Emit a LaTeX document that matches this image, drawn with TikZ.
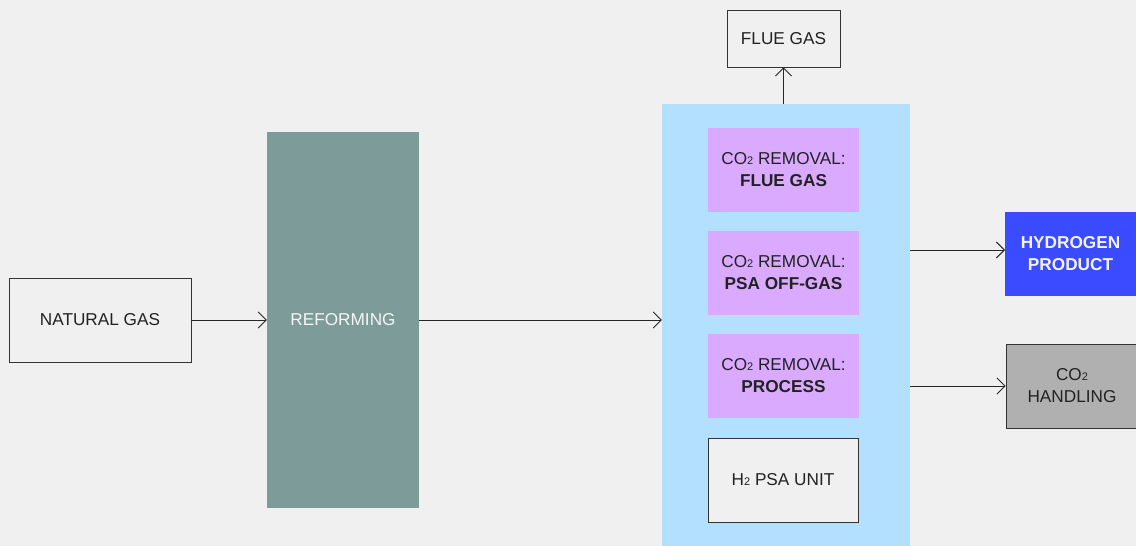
\documentclass[tikz,border=0pt]{standalone}
\usepackage{fontspec}
\setmainfont{Liberation Sans}
\usetikzlibrary{arrows.meta,calc}
\definecolor{bg}{HTML}{F0F0F0}
\definecolor{bluebg}{HTML}{B3E0FF}
\definecolor{purp}{HTML}{D9AAFF}
\definecolor{teal}{HTML}{7D9B99}
\definecolor{hyd}{HTML}{3B4BFF}
\definecolor{grayb}{HTML}{B0B0B0}
\definecolor{txt}{HTML}{222222}
\newcommand{\cotwo}{CO{\fontsize{11}{11}\selectfont 2}}
\newcommand{\htwo}{H{\fontsize{11}{11}\selectfont 2}}
\tikzset{
  every node/.style={font=\fontsize{17.2}{22}\selectfont, text=txt, align=center, inner sep=0pt},
  plainbox/.style={draw=black!80, line width=0.9pt, fill=bg},
  purpbox/.style={fill=purp, minimum width=151pt, minimum height=84pt},
  arr/.style={draw=black!85, line width=0.9pt, -{Straight Barb[length=8pt,width=16pt,line width=0.9pt]}}
}
\begin{document}
\begin{tikzpicture}[x=1pt,y=-1pt]
\useasboundingbox (0,0) rectangle (1136,546);
\fill[bg] (0,0) rectangle (1136,546);
\node[plainbox, minimum width=182pt, minimum height=84pt] (ng) at (100,320) {NATURAL GAS};
\node[fill=teal, minimum width=152pt, minimum height=376pt, text=white!92!teal] (ref) at (343,320) {REFORMING};
\node[fill=bluebg, minimum width=248pt, minimum height=442pt] (blue) at (786,325) {};
\node[plainbox, minimum width=113pt, minimum height=57pt] (flue) at (783.5,38.5) {FLUE GAS};
\node[purpbox] (p1) at (783.5,170) {\cotwo\ REMOVAL:\\\textbf{FLUE GAS}};
\node[purpbox] (p2) at (783.5,273) {\cotwo\ REMOVAL:\\\textbf{PSA OFF-GAS}};
\node[purpbox] (p3) at (783.5,376) {\cotwo\ REMOVAL:\\\textbf{PROCESS}};
\node[plainbox, minimum width=150pt, minimum height=84pt] (psa) at (783,480) {\htwo\ PSA UNIT};
\node[fill=hyd, minimum width=131pt, minimum height=84pt, text=white!94!hyd, font=\fontsize{17.2}{22}\selectfont\bfseries] (hp) at (1070.5,254) {HYDROGEN\\PRODUCT};
\node[plainbox, fill=grayb, minimum width=132pt, minimum height=84pt] (co2h) at (1072,386) {\cotwo\\HANDLING};
\coordinate (bh) at (910,250);
\coordinate (hh) at (1005,250);
\draw[arr] (ng.east) -- (ref.west);
\draw[arr] (ref.east) -- (ref.east -| blue.west);
\draw[arr] (blue.north -| flue.south) -- (flue.south);
\draw[arr] (bh) -- (hh);
\draw[arr] (co2h.west -| blue.east) -- (co2h.west);
\end{tikzpicture}
\end{document}
